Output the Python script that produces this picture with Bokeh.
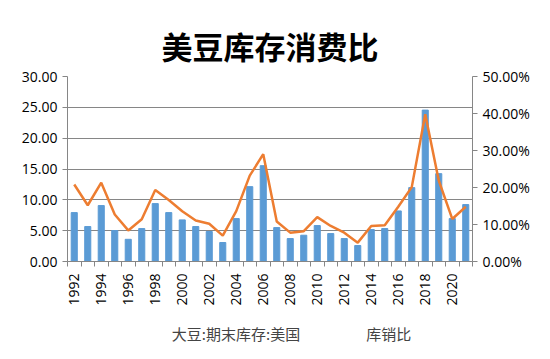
from bokeh.plotting import figure
from bokeh.models import (ColumnDataSource, Range1d, LinearAxis, NumeralTickFormatter,
                          FixedTicker, Legend, LegendItem, CDSView, IndexFilter)
from bokeh.layouts import column
from bokeh.embed import file_html
from bokeh.resources import INLINE
import math

years = list(range(1992, 2022))
stocks = [7.93, 5.67, 9.07, 5.02, 3.6, 5.34, 9.39, 7.93, 6.75, 5.67,
          4.86, 3.08, 6.96, 12.14, 15.54, 5.5, 3.72, 4.26, 5.83, 4.53,
          3.72, 2.59, 5.18, 5.34, 8.2, 11.98, 24.55, 14.25, 6.96, 9.23]
ratio = [0.208, 0.152, 0.213, 0.127, 0.084, 0.114, 0.193, 0.166, 0.136, 0.111,
         0.102, 0.070, 0.136, 0.232, 0.290, 0.108, 0.078, 0.082, 0.120, 0.096,
         0.078, 0.051, 0.096, 0.098, 0.148, 0.201, 0.398, 0.219, 0.115, 0.148]
label_years = list(range(1992, 2021, 2))
series_names = ["大豆:期末库存:美国", "库销比"]

src = ColumnDataSource(dict(year=years, stocks=stocks, ratio=ratio))

NUM_FONT = "Open Sans"
CJK_FONT = "Noto Sans CJK SC"
BAR_COL = "#5B9BD5"
LINE_COL = "#ED7D31"
grid_col = "#868686"

p = figure(frame_width=405, frame_height=185, output_backend="svg", toolbar_location=None,
           x_range=Range1d(years[0] - 0.5, years[-1] + 0.5), y_range=Range1d(0, 30),
           min_border_left=67, min_border_right=70, min_border_top=76, min_border_bottom=54,
           title="美豆库存消费比")
p.outline_line_color = None
p.title.align = "center"
p.title.text_font = CJK_FONT
p.title.text_font_size = "31px"
p.title.text_font_style = "bold"
p.title.text_color = "#000000"
p.title.standoff = 18

p.extra_y_ranges = {"r": Range1d(0, 0.5)}

p.vbar(x="year", top="stocks", width=0.45, source=src, color=BAR_COL)
p.line(x="year", y="ratio", source=src, y_range_name="r", line_color=LINE_COL, line_width=2.5)

p.xgrid.grid_line_color = None
p.ygrid.grid_line_color = grid_col
p.ygrid.ticker = FixedTicker(ticks=[0, 5, 10, 15, 20, 25, 30])

ax = p.xaxis[0]
ax.axis_label = None
ax.ticker = FixedTicker(ticks=label_years, minor_ticks=[y + 0.5 for y in range(1991, 2022)])
ax.major_label_orientation = math.pi / 2
ax.major_tick_line_color = None
ax.minor_tick_line_color = grid_col
ax.minor_tick_out = 5
ax.minor_tick_in = 0
ax.axis_line_color = grid_col
ax.major_label_text_font = NUM_FONT
ax.major_label_text_font_size = "14px"
ax.major_label_text_color = "#000000"
ax.major_label_standoff = 6

ly = p.yaxis[0]
ly.ticker = FixedTicker(ticks=[0, 5, 10, 15, 20, 25, 30])
ly.formatter = NumeralTickFormatter(format="0.00")
ly.minor_tick_line_color = None
ly.major_tick_out = 5
ly.major_tick_in = 0
ly.major_tick_line_color = grid_col
ly.axis_line_color = grid_col
ly.major_label_text_font = NUM_FONT
ly.major_label_text_font_size = "14px"
ly.major_label_text_color = "#000000"

ry = LinearAxis(y_range_name="r", ticker=FixedTicker(ticks=[0, 0.1, 0.2, 0.3, 0.4, 0.5]),
                formatter=NumeralTickFormatter(format="0.00%"))
ry.minor_tick_line_color = None
ry.major_tick_out = 5
ry.major_tick_in = 0
ry.major_tick_line_color = grid_col
ry.axis_line_color = grid_col
ry.major_label_text_font = NUM_FONT
ry.major_label_text_font_size = "14px"
ry.major_label_text_color = "#000000"
p.add_layout(ry, "right")

# legend strip under the chart; its renderers show no rows (empty view),
# so only the legend entries are drawn
lf = figure(width=550, height=36, output_backend="svg", toolbar_location=None,
            x_axis_type=None, y_axis_type=None, min_border=0,
            x_range=Range1d(0, 1), y_range=Range1d(0, 1))
lf.outline_line_color = None
lf.grid.grid_line_color = None
empty = CDSView(filter=IndexFilter(indices=[]))
lb = lf.vbar(x="year", top="stocks", width=0.45, source=src, view=empty, color=BAR_COL)
ll = lf.line(x="year", y="ratio", source=src, view=empty, line_color=LINE_COL, line_width=2.5)
legend = Legend(items=[LegendItem(label=series_names[0], renderers=[lb]),
                       LegendItem(label=series_names[1], renderers=[ll])],
                orientation="horizontal", location="center",
                label_text_font=CJK_FONT, label_text_font_size="15px",
                label_standoff=4,
                border_line_color=None, background_fill_alpha=0,
                glyph_width=32, glyph_height=10, spacing=30, margin=0, padding=2)
lf.add_layout(legend, "center")

open("out.html", "w").write(file_html(column(p, lf, spacing=0), INLINE))
